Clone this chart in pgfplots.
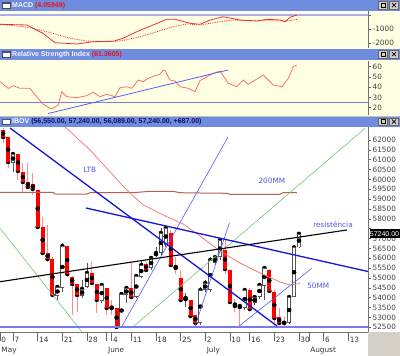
\documentclass[border=0pt]{standalone}
\usepackage{pgfplots}
\pgfplotsset{compat=1.18}
\usepackage{pgfplotstable}
\usepackage{fontspec}
\setmainfont{Liberation Sans}
\newfontfamily\dv{DejaVu Sans}
\definecolor{hdr}{RGB}{112,140,222}
\definecolor{panel}{RGB}{255,255,228}
\definecolor{cred}{RGB}{255,0,0}
\definecolor{wick}{RGB}{255,140,140}
\definecolor{wout}{RGB}{85,85,85}
\definecolor{sup}{RGB}{120,120,240}
\definecolor{ltb}{RGB}{20,20,225}
\definecolor{thinb}{RGB}{90,90,255}
\definecolor{gline}{RGB}{120,200,120}
\definecolor{ma50}{RGB}{240,115,105}
\definecolor{ma200}{RGB}{175,100,80}
\definecolor{lbl}{RGB}{85,85,230}
\definecolor{macdc}{RGB}{235,50,50}
\definecolor{rsic}{RGB}{250,110,110}
\definecolor{zline}{RGB}{170,175,235}
\definecolor{wingray}{RGB}{212,208,200}
\definecolor{hred}{RGB}{235,20,20}
\definecolor{navy}{RGB}{16,16,100}

\pgfplotstableread{
i O H L C
2 62503 62604 61844 62148
3 62148 62148 60576 60881
5 61286 61286 59968 60424
6 60374 60830 59309 59867
7 59867 60830 59613 59613
8 59765 60323 59207 59512
9 59461 59461 57484 57585
10 57585 58092 56165 56267
11 56267 57686 55811 55963
12 55963 56064 54036 54137
15 56622 56622 55050 55202
16 55050 55101 53123 54695
17 54695 54695 53276 54137
20 55253 55811 54644 54746
21 54695 54695 53225 53884
23 54492 54492 53123 53478
24 53529 53884 53123 53478
25 53478 53478 52515 52515
28 54492 55811 53985 54036
31 55709 55811 55304 55405
36 57281 57433 55557 55658
37 55608 56064 55202 55506
38 54999 55405 53783 53884
40 53884 53884 53022 53073
41 53123 53123 52464 52718
47 56419 56926 55202 55456
48 55405 55405 53681 53783
49 53732 53935 53276 53580
50 53630 53630 52515 53529
52 54391 54492 53326 53428
56 55405 55456 54239 54340
57 54290 54391 52566 52971
58 53022 53478 52616 52718
59 52744 53022 52464 52718
}\redc

\pgfplotstableread{
i O H L C
4 60830 61388 60374 61286
13 54087 54644 53884 54543
14 54492 56774 54290 56622
18 54087 54898 53985 54442
19 54543 55760 54492 55253
22 53833 54746 53732 54644
26 52515 54188 52515 54188
27 54137 54543 53732 54492
29 54036 55101 53985 55101
30 55050 55912 54999 55658
32 55506 56064 55405 56013
33 56165 56571 56064 56267
34 56267 57534 56165 57281
35 56672 57686 56571 57534
39 53884 54239 53529 53985
42 52718 54543 52616 54391
43 54391 54898 54290 54746
44 54391 56064 54290 55912
45 55760 56165 55658 56064
46 56064 57027 55912 56926
51 53478 54492 53377 54391
53 53732 54137 53630 54036
54 54036 54746 53935 54644
55 54594 55608 53884 55506
60 52718 54087 52667 54036
61 54036 56622 54036 56553
62 56550 57240 56500 57240
}\whitec

\pgfplotstableread{
i v
1.36 -664
6.84 -714
8.05 -950
10.08 -1307
12.52 -1978
16.98 -2071
20.22 -1907
24.3 -1878
26.3 -1664
29.1 -1193
32.4 -714
35.2 -307
36.9 -307
39.9 -593
41.9 -664
44.0 -357
46.6 -121
50.0 -357
53.5 -428
55.5 -307
58.2 -357
59.2 -478
60.2 -164
61.6 4
}\macdt

\pgfplotstableread{
i v
1.36 -664
6.02 -835
8.05 -950
12.11 -1307
15.56 -1664
19.01 -1857
21.64 -1907
25.7 -1857
29.8 -1550
33.2 -1193
36.45 -835
39.3 -643
41.9 -714
46.0 -478
48.6 -357
52.07 -407
55.5 -407
58.2 -428
60.2 -407
61.6 -307
}\sigt

\pgfplotstableread{
i v
1.36 45.4
3.04 38.9
4.06 41.5
5.42 38.9
7.44 38.9
8.80 30.7
10.14 23.3
11.85 18.7
13.18 22.6
13.87 35.6
14.89 30.7
16.92 29.8
18.94 31.7
20.28 35.0
21.64 30.7
23.00 33.1
24.69 30.7
25.70 39.5
27.06 40.5
28.07 38.9
29.41 47.0
30.43 45.4
31.44 48.7
32.80 51.2
33.81 52.6
34.48 56.8
34.83 56.1
35.84 47.0
36.86 46.0
37.87 40.5
39.55 38.9
40.91 35.6
41.93 46.5
44.63 53.6
45.98 55.8
47.67 43.8
49.37 40.5
50.71 47.0
51.72 42.8
54.77 51.9
56.79 42.1
58.50 40.5
59.84 48.7
60.85 60.0
61.54 61.4
}\rsit

\pgfplotstableread{
i v
13.53 62909
14.89 62589
19.61 61489
23.67 60389
27.06 59461
30.43 58701
35.17 58107
38.54 57737
41.93 57129
45.98 56368
50.04 55760
54.10 55253
58.15 54797
60.18 54645
62.21 54721
}\mafifty

\pgfplotstableread{
i v
1.36 59344
12.11 59344
12.52 59258
19.01 59258
19.61 59324
28.34 59324
31.79 59395
36.45 59395
37.87 59324
41.93 59309
47.4 59294
48.0 59243
58.15 59243
58.76 59324
61.6 59324
}\matwohundred

\newcommand{\hdrbar}[3]{% top y, bottom y, text
  \fill[hdr] (0,-#1) rectangle (400pt,-#2);
  \draw[black!70, fill=white, line width=0.4pt] (2.5pt,{-#1-2.5pt}) rectangle (10pt,{-#1-8pt});
  \fill[hdr!60!black] (2.5pt,{-#1-2.5pt}) rectangle (10pt,{-#1-3.6pt});
  \draw[black!60, fill=wingray, line width=0.4pt] (378.5pt,{-#1-1.2pt}) rectangle (387.5pt,{-#1-9pt});
  \draw[black!60, fill=wingray, line width=0.4pt] (389.5pt,{-#1-1.2pt}) rectangle (398.5pt,{-#1-9pt});
  \draw[black, line width=0.5pt] (380.8pt,{-#1-3pt}) rectangle (385.2pt,{-#1-7.2pt});
  \draw[black, line width=0.7pt] (391.8pt,{-#1-3pt}) -- (396.2pt,{-#1-7.2pt}) (391.8pt,{-#1-7.2pt}) -- (396.2pt,{-#1-3pt});
  \node[anchor=west, inner sep=0pt, font=\bfseries\fontsize{7}{8}\selectfont] at (12pt,{-#1-5.3pt}) {#3};
}

\begin{document}
\begin{tikzpicture}
\useasboundingbox (0,0) rectangle (400pt,-356pt);
\fill[white] (0,0) rectangle (400pt,-356pt);
\fill[panel] (0,-10.5pt) rectangle (400pt,-48pt);
\fill[panel] (0,-60pt) rectangle (400pt,-115.5pt);
\fill[black!25] (0,-115.5pt) rectangle (400pt,-116.5pt);
\fill[wingray] (368pt,-332pt) rectangle (400pt,-356pt);
\hdrbar{0pt}{10.5pt}{\textcolor{white!92!hdr}{MACD} \textcolor{hred}{(4.05949)}}
\hdrbar{49pt}{60pt}{\textcolor{white!92!hdr}{Relative Strength Index} \textcolor{hred}{(61.3605)}}
\hdrbar{116.5pt}{127pt}{\textcolor{white}{IBOV} \textcolor{navy}{(56,550.00, 57,240.00, 56,089.00, 57,240.00, +687.00)}}

% MACD panel
\begin{axis}[at={(0pt,-11pt)}, anchor=north west, scale only axis,
  width=368pt, height=37pt, xmin=1.36, xmax=76, ymin=-2357, ymax=286,
  axis x line=none, axis y line*=right, scaled y ticks=false,
  axis line style={draw=black!55, line width=0.6pt},
  xtick=\empty, ytick={0,-1000,-2000}, yticklabels={,-1000,-2000},
  minor y tick num=1, tick align=outside, major tick length=3pt, minor tick length=1.5pt,
  tick style={draw=black!60, line width=0.5pt},
  yticklabel style={font=\dv\fontsize{7.3}{8}\selectfont, text=black!75, inner sep=1.5pt}]
\addplot[zline, line width=1.8pt] coordinates {(1.36,0) (76,0)};
\addplot[macdc, densely dotted, line width=0.8pt] table[x=i, y=v] {\sigt};
\addplot[macdc, line width=0.8pt] table[x=i, y=v] {\macdt};
\end{axis}

% RSI panel
\begin{axis}[at={(0pt,-61pt)}, anchor=north west, scale only axis,
  width=368pt, height=54pt, xmin=1.36, xmax=76, ymin=12.88, ymax=65.56,
  axis x line=none, axis y line*=right,
  axis line style={draw=black!55, line width=0.6pt},
  xtick=\empty, ytick={20,30,40,50,60}, yticklabels={20,30,40,50,60},
  minor y tick num=1, tick align=outside, major tick length=3pt, minor tick length=1.5pt,
  tick style={draw=black!60, line width=0.5pt},
  yticklabel style={font=\dv\fontsize{7.3}{8}\selectfont, text=black!75, inner sep=1.5pt}]
\addplot[sup, line width=0.9pt] coordinates {(1.36,25) (76,25)};
\addplot[rsic, line width=0.8pt] table[x=i, y=v] {\rsit};
\addplot[thinb, line width=0.8pt] coordinates {(11.1,14.3) (47.6,56.8)};
\end{axis}

% Main price panel
\begin{axis}[at={(0pt,-127pt)}, anchor=north west, scale only axis,
  width=368pt, height=205pt, xmin=1.36, xmax=76, ymin=52262, ymax=62655,
  axis x line*=bottom, axis y line*=right, scaled y ticks=false,
  axis line style={draw=black!55, line width=0.6pt},
  ytick={52500,53000,53500,54000,54500,55000,55500,56000,56500,57000,57500,58000,58500,59000,59500,60000,60500,61000,61500,62000},
  yticklabels={52500,53000,53500,54000,54500,55000,55500,56000,56500,57000,,58000,58500,59000,59500,60000,60500,61000,61500,62000},
  minor y tick num=1, tick align=outside, major tick length=3pt, minor tick length=1.5pt,
  tick style={draw=black!60, line width=0.5pt},
  yticklabel style={font=\dv\fontsize{7.3}{8}\selectfont, text=black!75, inner sep=1.5pt},
  xtick={1.36,4,9,14,19,24,28,33,38,43,48,52,57,62,67,72},
  xticklabels={0,7,14,21,28,4,11,18,25,2,10,16,23,30,6,13},
  xtick style={/pgfplots/major tick length=9pt},
  xticklabel style={font=\dv\fontsize{7.3}{8}\selectfont, text=black!80, anchor=north west, inner sep=0.5pt, xshift=0.8pt, yshift=-1.5pt},
  extra x ticks={1.36,23,43,64},
  extra x tick labels={May,June,July,August},
  extra x tick style={/pgfplots/major tick length=24pt, xticklabel style={yshift=11pt}},
  clip mode=individual]
% wicks
\addplot[only marks, mark=none, error bars/.cd, y dir=both, y explicit, error mark=none,
  error bar style={draw=wick, line width=0.9pt}]
  table[x=i, y=C, y error plus expr=\thisrow{H}-\thisrow{C}, y error minus expr=\thisrow{C}-\thisrow{L}] {\redc};
\addplot[only marks, mark=none, error bars/.cd, y dir=both, y explicit, error mark=none,
  error bar style={draw=wout, line width=0.8pt}]
  table[x=i, y=C, y error plus expr=\thisrow{H}-\thisrow{C}, y error minus expr=\thisrow{C}-\thisrow{L}] {\whitec};
% bodies
\addplot[only marks, mark=none, error bars/.cd, y dir=both, y explicit, error mark=none,
  error bar style={draw=cred, line width=4pt}]
  table[x=i, y expr=(\thisrow{O}+\thisrow{C})/2, y error expr={max(abs(\thisrow{O}-\thisrow{C})/2,14)}] {\redc};
\addplot[only marks, mark=none, error bars/.cd, y dir=both, y explicit, error mark=none,
  error bar style={draw=wout, line width=4pt}]
  table[x=i, y expr=(\thisrow{O}+\thisrow{C})/2, y error expr={max(abs(\thisrow{O}-\thisrow{C})/2,14)}] {\whitec};
\addplot[only marks, mark=none, error bars/.cd, y dir=both, y explicit, error mark=none,
  error bar style={draw=white, line width=2.6pt}]
  table[x=i, y expr=(\thisrow{O}+\thisrow{C})/2, y error expr={max(abs(\thisrow{O}-\thisrow{C})/2-36,0)}] {\whitec};
% moving averages
\addplot[ma200, line width=1pt] table[x=i, y=v] {\matwohundred};
\addplot[ma50, line width=0.7pt] table[x=i, y=v] {\mafifty};
% trend lines
\addplot[gline, line width=0.6pt] coordinates {(1.36,57519) (18.0,52262)};
\addplot[gline, line width=0.6pt] coordinates {(28.07,52464) (75.4,62589)};
\addplot[thinb, line width=0.6pt] coordinates {(26.04,52530) (47.6,62148)};
\addplot[thinb, line width=0.6pt] coordinates {(40.9,52530) (47.9,57803)};
\addplot[thinb, line width=0.6pt] coordinates {(49.7,52530) (64.6,55491)};
\addplot[sup, line width=2.2pt] coordinates {(1.36,52500) (76,52500)};
\addplot[ltb, line width=1.3pt] coordinates {(3.39,62604) (57.55,52566)};
\addplot[ltb, line width=1.3pt] coordinates {(18.8,58548) (76,55329)};
\addplot[black, line width=1.1pt] coordinates {(1.36,54812) (71.7,57433)};
% labels
\node[text=lbl, font=\dv\fontsize{7.3}{8}\selectfont] at (axis cs:19.6,60475) {LTB};
\node[text=lbl, font=\dv\fontsize{7.3}{8}\selectfont] at (axis cs:56.5,59917) {200MM};
\node[text=lbl, font=\dv\fontsize{7.3}{8}\selectfont] at (axis cs:65.9,54594) {50MM};
\node[text=lbl, font=\dv\fontsize{7.3}{8}\selectfont] at (axis cs:68.9,57690) {resistência};
\end{axis}
\node[fill=black, text=white, inner sep=0pt, minimum width=30pt, minimum height=9.5pt, font=\fontsize{7}{8}\selectfont] at (384.5pt,-233.7pt) {57240.00};
\end{tikzpicture}
\end{document}
